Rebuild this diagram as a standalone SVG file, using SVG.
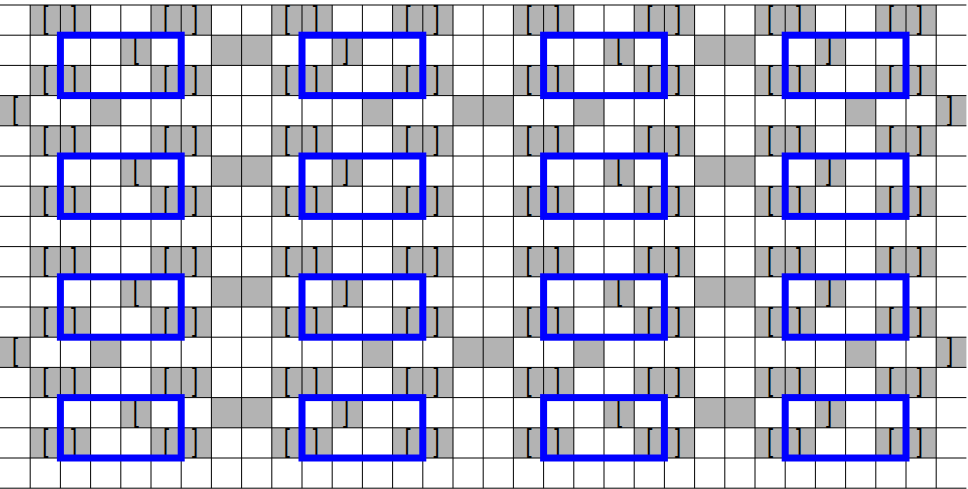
<svg xmlns="http://www.w3.org/2000/svg" xmlns:xlink="http://www.w3.org/1999/xlink" width="968" height="489" viewBox="0 0 968 489">
<style>
.g{fill:#b3b3b3;stroke:none}
.ln{stroke:#000;stroke-width:1;fill:none}
.t{font-family:"Liberation Sans",Arial,sans-serif;font-size:22px;fill:#000}
.box{fill:none;stroke:#0000ff;stroke-width:7}
</style>
<defs>
<g id="rowEven">
<rect class="g" x="30.2" y="0" width="60.4" height="30.2"/>
<rect class="g" x="151" y="0" width="60.4" height="30.2"/>
<rect class="g" x="271.8" y="0" width="60.4" height="30.2"/>
<rect class="g" x="392.6" y="0" width="60.4" height="30.2"/>
<rect class="g" x="513.4" y="0" width="60.4" height="30.2"/>
<rect class="g" x="634.2" y="0" width="60.4" height="30.2"/>
<rect class="g" x="755" y="0" width="60.4" height="30.2"/>
<rect class="g" x="875.8" y="0" width="60.4" height="30.2"/>
</g>
<g id="rowEvenText" class="t" transform="scale(1,1.4)">
<text x="42.2" y="16.43">[</text><text x="71.1" y="16.43">]</text>
<text x="163" y="16.43">[</text><text x="191.9" y="16.43">]</text>
<text x="283.8" y="16.43">[</text><text x="312.7" y="16.43">]</text>
<text x="404.6" y="16.43">[</text><text x="433.5" y="16.43">]</text>
<text x="525.4" y="16.43">[</text><text x="554.3" y="16.43">]</text>
<text x="646.2" y="16.43">[</text><text x="675.1" y="16.43">]</text>
<text x="767" y="16.43">[</text><text x="795.9" y="16.43">]</text>
<text x="887.8" y="16.43">[</text><text x="916.7" y="16.43">]</text>
</g>
<g id="rowA">
<rect class="g" x="120.8" y="0" width="30.2" height="30.2"/>
<rect class="g" x="211.4" y="0" width="60.4" height="30.2"/>
<rect class="g" x="332.2" y="0" width="30.2" height="30.2"/>
<rect class="g" x="604" y="0" width="30.2" height="30.2"/>
<rect class="g" x="694.6" y="0" width="60.4" height="30.2"/>
<rect class="g" x="815.4" y="0" width="30.2" height="30.2"/>
</g>
<g id="rowAText" class="t" transform="scale(1,1.4)">
<text x="132.8" y="16.43">[</text><text x="342.9" y="16.43">]</text>
<text x="616" y="16.43">[</text><text x="826.1" y="16.43">]</text>
</g>
<g id="rowB">
<rect class="g" x="0" y="0" width="30.2" height="30.2"/>
<rect class="g" x="90.6" y="0" width="30.2" height="30.2"/>
<rect class="g" x="362.4" y="0" width="30.2" height="30.2"/>
<rect class="g" x="453" y="0" width="60.4" height="30.2"/>
<rect class="g" x="573.8" y="0" width="30.2" height="30.2"/>
<rect class="g" x="845.6" y="0" width="30.2" height="30.2"/>
<rect class="g" x="936.2" y="0" width="30.2" height="30.2"/>
</g>
<g id="rowBText" class="t" transform="scale(1,1.4)">
<text x="12" y="16.43">[</text><text x="946.9" y="16.43">]</text>
</g>
</defs>
<rect x="0" y="0" width="968" height="489" fill="#fff"/>
<g id="cells">
<use xlink:href="#rowEven" y="5"/>
<use xlink:href="#rowA" y="35.2"/>
<use xlink:href="#rowEven" y="65.4"/>
<use xlink:href="#rowB" y="95.6"/>
<use xlink:href="#rowEven" y="125.8"/>
<use xlink:href="#rowA" y="156"/>
<use xlink:href="#rowEven" y="186.2"/>
<use xlink:href="#rowEven" y="246.6"/>
<use xlink:href="#rowA" y="276.8"/>
<use xlink:href="#rowEven" y="307"/>
<use xlink:href="#rowB" y="337.2"/>
<use xlink:href="#rowEven" y="367.4"/>
<use xlink:href="#rowA" y="397.6"/>
<use xlink:href="#rowEven" y="427.8"/>
</g>
<g id="grid" class="ln">
<path d="M0 5H966.4M0 35.2H966.4M0 65.4H966.4M0 95.6H966.4M0 125.8H966.4M0 156H966.4M0 186.2H966.4M0 216.4H966.4M0 246.6H966.4M0 276.8H966.4M0 307H966.4M0 337.2H966.4M0 367.4H966.4M0 397.6H966.4M0 427.8H966.4M0 458H966.4M0 488.2H966.4"/>
<path d="M30.2 5V488.2M60.4 5V488.2M90.6 5V488.2M120.8 5V488.2M151 5V488.2M181.2 5V488.2M211.4 5V488.2M241.6 5V488.2M271.8 5V488.2M302 5V488.2M332.2 5V488.2M362.4 5V488.2M392.6 5V488.2M422.8 5V488.2M453 5V488.2M483.2 5V488.2M513.4 5V488.2M543.6 5V488.2M573.8 5V488.2M604 5V488.2M634.2 5V488.2M664.4 5V488.2M694.6 5V488.2M724.8 5V488.2M755 5V488.2M785.2 5V488.2M815.4 5V488.2M845.6 5V488.2M875.8 5V488.2M906 5V488.2M936.2 5V488.2"/>
</g>
<g id="labels">
<use xlink:href="#rowEvenText" y="5"/>
<use xlink:href="#rowAText" y="35.2"/>
<use xlink:href="#rowEvenText" y="65.4"/>
<use xlink:href="#rowBText" y="95.6"/>
<use xlink:href="#rowEvenText" y="125.8"/>
<use xlink:href="#rowAText" y="156"/>
<use xlink:href="#rowEvenText" y="186.2"/>
<use xlink:href="#rowEvenText" y="246.6"/>
<use xlink:href="#rowAText" y="276.8"/>
<use xlink:href="#rowEvenText" y="307"/>
<use xlink:href="#rowBText" y="337.2"/>
<use xlink:href="#rowEvenText" y="367.4"/>
<use xlink:href="#rowAText" y="397.6"/>
<use xlink:href="#rowEvenText" y="427.8"/>
</g>
<g id="boxes" class="box">
<rect id="box-0-0" x="60.4" y="35.2" width="120.8" height="60.4"/>
<rect id="box-0-1" x="302" y="35.2" width="120.8" height="60.4"/>
<rect id="box-0-2" x="543.6" y="35.2" width="120.8" height="60.4"/>
<rect id="box-0-3" x="785.2" y="35.2" width="120.8" height="60.4"/>
<rect id="box-1-0" x="60.4" y="156" width="120.8" height="60.4"/>
<rect id="box-1-1" x="302" y="156" width="120.8" height="60.4"/>
<rect id="box-1-2" x="543.6" y="156" width="120.8" height="60.4"/>
<rect id="box-1-3" x="785.2" y="156" width="120.8" height="60.4"/>
<rect id="box-2-0" x="60.4" y="276.8" width="120.8" height="60.4"/>
<rect id="box-2-1" x="302" y="276.8" width="120.8" height="60.4"/>
<rect id="box-2-2" x="543.6" y="276.8" width="120.8" height="60.4"/>
<rect id="box-2-3" x="785.2" y="276.8" width="120.8" height="60.4"/>
<rect id="box-3-0" x="60.4" y="397.6" width="120.8" height="60.4"/>
<rect id="box-3-1" x="302" y="397.6" width="120.8" height="60.4"/>
<rect id="box-3-2" x="543.6" y="397.6" width="120.8" height="60.4"/>
<rect id="box-3-3" x="785.2" y="397.6" width="120.8" height="60.4"/>
</g>
<g id="connectors"/>
</svg>
